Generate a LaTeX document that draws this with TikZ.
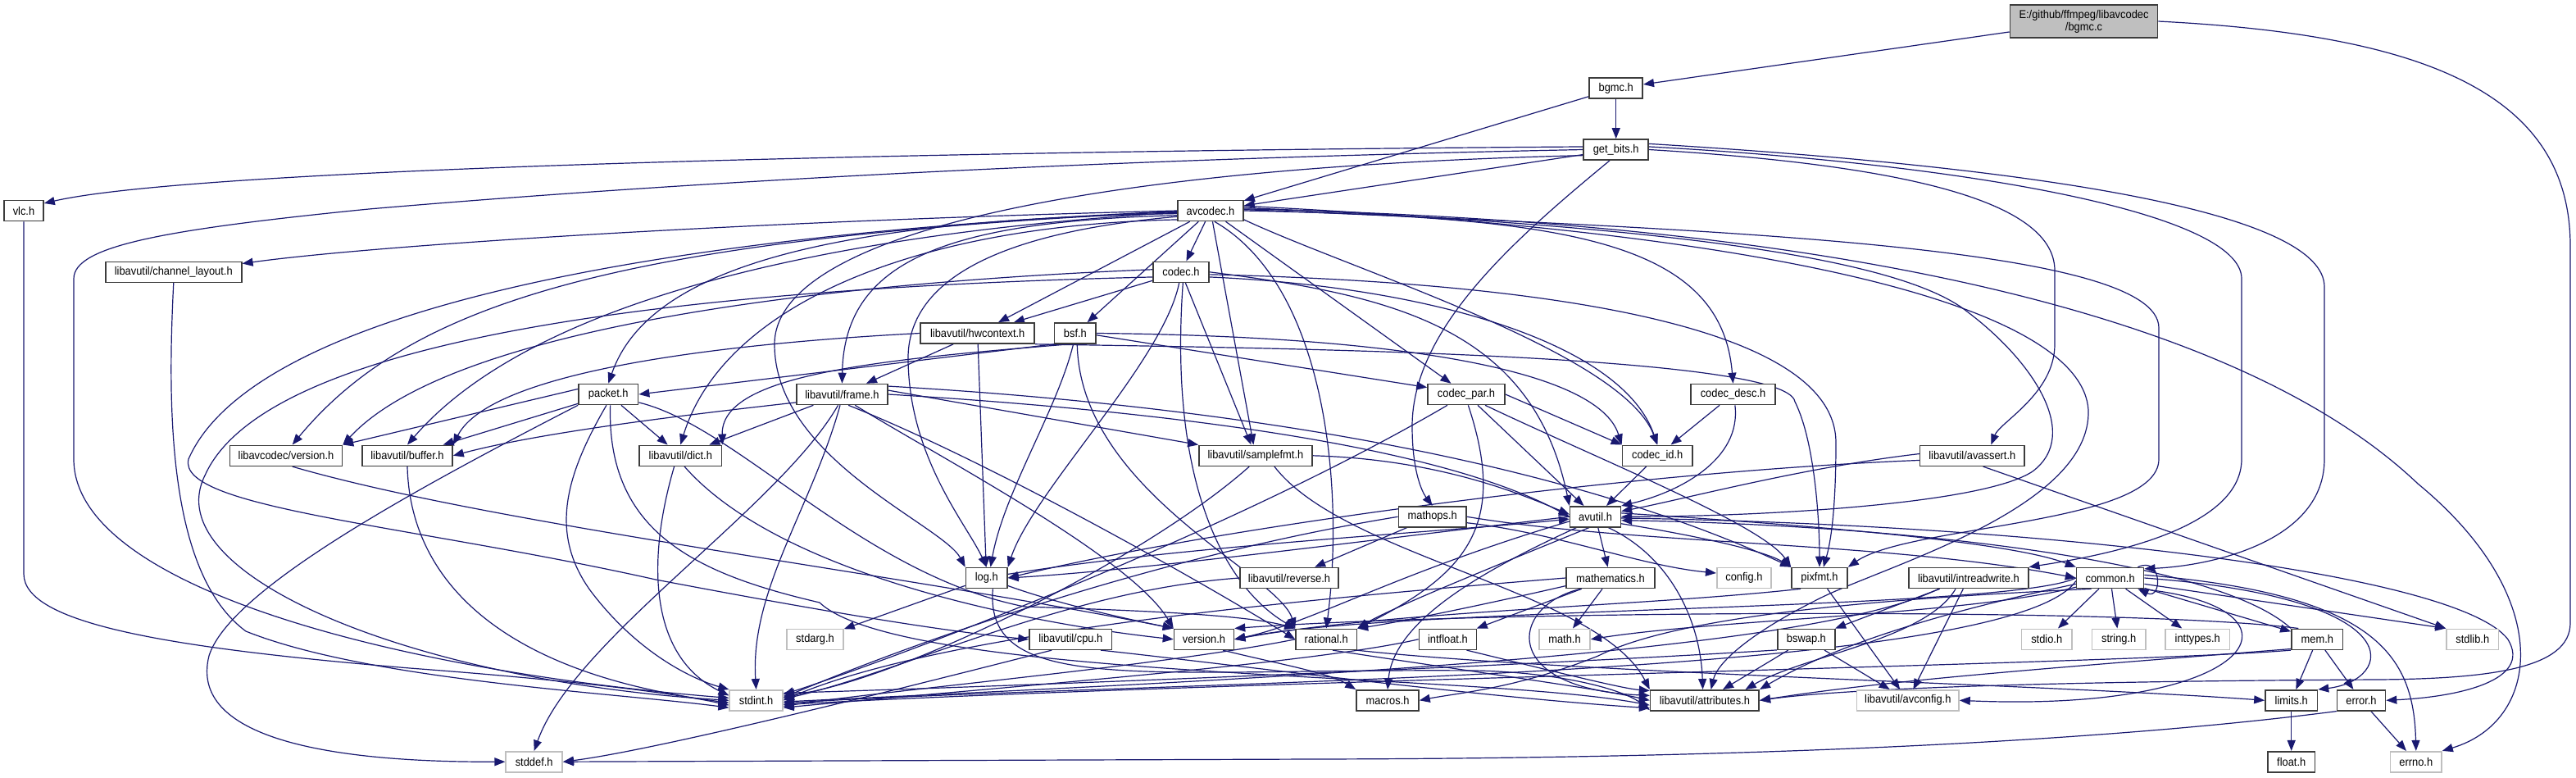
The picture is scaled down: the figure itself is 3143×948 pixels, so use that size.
\documentclass[tikz,border=0pt]{standalone}
\usepackage{fontspec}
\newfontfamily\gf{Liberation Sans}[FakeStretch=0.92]
\usetikzlibrary{arrows.meta}
\definecolor{edgec}{RGB}{25,25,112}
\definecolor{sysgray}{RGB}{191,191,191}
\definecolor{boxd}{RGB}{60,60,60}
\pgfdeclarelayer{bg}
\pgfdeclarelayer{edges}
\pgfsetlayers{bg,edges,main}
\newcommand\gnode[6]{\node[#1,minimum width=#5*0.5pt] (#2) at (#3,#4) {#6};}
\begin{document}
\begin{tikzpicture}[x=0.5pt,y=-0.5pt,
 every node/.style={font=\gf\fontsize{7pt}{7.5pt}\selectfont},
 nb/.style={draw=boxd,line width=0.8pt,fill=white,inner sep=0pt,minimum height=12.5pt,align=center},
 ns/.style={nb,draw=sysgray},
 lnk/.style={draw=edgec,line width=0.6pt,-{Triangle[length=6.5pt,width=5pt]}}]
\begin{pgfonlayer}{bg}
\fill[white] (0,0) rectangle (3143,948);
\end{pgfonlayer}
\useasboundingbox (0,0) rectangle (3143,948);
% ---------- nodes ----------
\node[nb,fill=sysgray,minimum width=90pt,minimum height=20pt] (bgmcc) at (2542.5,26) {E:/github/ffmpeg/libavcodec\\/bgmc.c};
\gnode{nb}{bgmch}{1971.7}{107.7}{65}{bgmc.h}
\gnode{nb}{getbits}{1971.7}{182.5}{79}{get\_bits.h}
\gnode{nb}{vlc}{29}{257}{48}{vlc.h}
\gnode{nb}{avcodec}{1477}{257}{80}{avcodec.h}
\gnode{nb}{chlayout}{211.8}{331.8}{166}{libavutil/channel\_layout.h}
\gnode{nb}{codec}{1441}{331.8}{68}{codec.h}
\gnode{nb}{hwctx}{1192.7}{406.5}{139}{libavutil/hwcontext.h}
\gnode{nb}{bsf}{1311.9}{406.5}{50.5}{bsf.h}
\gnode{nb}{packet}{742.3}{481}{72.6}{packet.h}
\gnode{nb}{frame}{1027.4}{481}{111}{libavutil/frame.h}
\gnode{nb}{codecpar}{1789}{481}{94}{codec\_par.h}
\gnode{nb}{codecdesc}{2114.5}{481}{103}{codec\_desc.h}
\gnode{nb}{lavcver}{349}{555.8}{137}{libavcodec/version.h}
\gnode{nb}{buffer}{497}{555.8}{110}{libavutil/buffer.h}
\gnode{nb}{dict}{830.3}{555.8}{100.5}{libavutil/dict.h}
\gnode{nb}{samplefmt}{1531.9}{555.8}{138}{libavutil/samplefmt.h}
\gnode{nb}{codecid}{2022.2}{555.8}{85.6}{codec\_id.h}
\gnode{nb}{avassert}{2406.3}{555.8}{127.4}{libavutil/avassert.h}
\gnode{nb}{mathops}{1747.7}{630.3}{82.6}{mathops.h}
\gnode{nb}{avutil}{1946.5}{630.3}{61.7}{avutil.h}
\gnode{nb}{log}{1203.7}{705}{50.5}{log.h}
\gnode{nb}{reverse}{1573}{705}{120}{libavutil/reverse.h}
\gnode{nb}{mathematics}{1965}{705}{108}{mathematics.h}
\gnode{ns}{config}{2127.9}{705}{66.3}{config.h}
\gnode{nb}{pixfmt}{2220}{705}{68}{pixfmt.h}
\gnode{nb}{intrw}{2401.9}{705}{145.7}{libavutil/intreadwrite.h}
\gnode{nb}{common}{2574.6}{705}{82}{common.h}
\gnode{ns}{stdarg}{994.5}{779.8}{69}{stdarg.h}
\gnode{nb}{cpu}{1306.3}{779.8}{100.5}{libavutil/cpu.h}
\gnode{nb}{lavuver}{1469}{779.8}{73}{version.h}
\gnode{nb}{rational}{1618.2}{779.8}{74.4}{rational.h}
\gnode{nb}{intfloat}{1766.4}{779.8}{70}{intfloat.h}
\gnode{ns}{mathh}{1909}{779.8}{62}{math.h}
\gnode{nb}{bswap}{2203.9}{779.8}{70.3}{bswap.h}
\gnode{ns}{stdio}{2497.2}{779.8}{61.5}{stdio.h}
\gnode{ns}{string}{2585.2}{779.8}{65.5}{string.h}
\gnode{ns}{inttypes}{2681.2}{779.8}{78.4}{inttypes.h}
\gnode{nb}{mem}{2827.3}{779.8}{62.7}{mem.h}
\gnode{ns}{stdlib}{3016.8}{779.8}{63.7}{stdlib.h}
\gnode{ns}{stdint}{922.6}{854.3}{64.8}{stdint.h}
\gnode{nb}{macros}{1693}{854.3}{76}{macros.h}
\gnode{nb}{attributes}{2079.9}{854.3}{132.6}{libavutil/attributes.h}
\gnode{ns}{avconfig}{2327.8}{854.3}{124.4}{libavutil/avconfig.h}
\gnode{nb}{limits}{2795.7}{854.3}{63.5}{limits.h}
\gnode{nb}{error}{2881}{854.3}{59}{error.h}
\gnode{ns}{stddef}{651.7}{929.2}{69}{stddef.h}
\gnode{nb}{floath}{2795.7}{929.2}{57.4}{float.h}
\gnode{ns}{errno}{2947.8}{929.2}{62.4}{errno.h}
% ---------- edges ----------
\begin{pgfonlayer}{edges}
% bgmc.c
\draw[lnk] (bgmcc) -- (bgmch);
\draw[lnk] (bgmcc.east) .. controls (2950,42) and (3136,110) .. (3136,300) -- (3136,760) .. controls (3136,815) and (3040,828) .. (2900,829) .. controls (2500,831) and (2250,840) .. (attributes.east);
% bgmc.h
\draw[lnk] (bgmch) -- (getbits);
\draw[lnk] (bgmch) -- (avcodec);
% get_bits.h
\draw[lnk] (getbits) -- (avcodec);
\draw[lnk] (getbits.175) .. controls (1200,184) and (250,203) .. (vlc.20);
\draw[lnk] (getbits.180) .. controls (1300,195) and (800,225) .. (450,255) .. controls (200,280) and (90,300) .. (90,340) -- (90,560) .. controls (90,720) and (500,820) .. (stdint.175);
\draw[lnk] (getbits.190) .. controls (1300,205) and (945,290) .. (945,420) .. controls (945,560) and (1150,640) .. (log.north west);
\draw[lnk] (getbits.240) .. controls (1850,290) and (1723,400) .. (1723,520) .. controls (1723,575) and (1735,600) .. (mathops.north);
\draw[lnk] (getbits.east) .. controls (2300,200) and (2507,240) .. (2507,330) -- (2507,420) .. controls (2507,480) and (2440,515) .. (avassert.30);
\draw[lnk] (getbits.5) .. controls (2400,200) and (2735,260) .. (2735,340) -- (2735,560) .. controls (2735,650) and (2550,680) .. (intrw.north east);
\draw[lnk] (getbits.10) .. controls (2500,205) and (2836,260) .. (2836,350) -- (2836,560) .. controls (2836,660) and (2700,690) .. (common.15);
% avcodec.h
\draw[lnk] (avcodec.west) .. controls (900,270) and (450,300) .. (chlayout.7);
\draw[lnk] (avcodec) -- (codec);
\draw[lnk] (avcodec) -- (hwctx);
\draw[lnk] (avcodec) -- (bsf);
\draw[lnk] (avcodec.185) .. controls (1000,268) and (790,330) .. (packet.north);
\draw[lnk] (avcodec.188) .. controls (1150,270) and (1030,320) .. (frame.north);
\draw[lnk] (avcodec) -- (codecpar);
\draw[lnk] (avcodec.east) .. controls (1900,265) and (2100,290) .. (codecdesc.north);
\draw[lnk] (avcodec.182) .. controls (750,290) and (500,370) .. (lavcver.60);
\draw[lnk] (avcodec.183) .. controls (900,292) and (620,400) .. (buffer.north);
\draw[lnk] (avcodec.195) .. controls (1100,275) and (880,380) .. (dict.north);
\draw[lnk] (avcodec) -- (samplefmt);
\draw[lnk] (avcodec.-15) .. controls (1650,330) and (1980,430) .. (codecid.north);
\draw[lnk] (avcodec.5) .. controls (1900,270) and (2300,300) .. (2400,380) .. controls (2480,440) and (2540,530) .. (2480,575) .. controls (2420,615) and (2150,630) .. (avutil.east);
\draw[lnk] (avcodec.190) .. controls (1200,285) and (1106,350) .. (1108,440) .. controls (1110,560) and (1180,640) .. (log.north);
\draw[lnk] (avcodec.2) .. controls (2100,280) and (2634,300) .. (2634,400) -- (2634,560) .. controls (2634,640) and (2330,640) .. (pixfmt.north east);
\draw[lnk] (avcodec.8) .. controls (2200,285) and (2540,380) .. (2548,500) .. controls (2552,620) and (2300,690) .. (2220,730) .. controls (2130,775) and (2095,810) .. (attributes.60);
\draw[lnk] (avcodec.-70) .. controls (1620,350) and (1640,600) .. (rational.north);
\draw[lnk] (avcodec.181) .. controls (700,290) and (300,400) .. (230,560) .. controls (215,620) and (500,640) .. (800,707) .. controls (1000,745) and (1150,770) .. (cpu.west);
\draw[lnk] (avcodec.3) .. controls (2300,272) and (2750,400) .. (2950,590) .. controls (3120,730) and (3100,880) .. (errno.north east);
% codec.h
\draw[lnk] (codec.190) .. controls (900,350) and (330,400) .. (250,580) .. controls (190,700) and (500,830) .. (stdint.180);
\draw[lnk] (codec.east) .. controls (1700,360) and (1870,400) .. (avutil.north west);
\draw[lnk] (codec) -- (hwctx);
\draw[lnk] (codec.-100) .. controls (1420,440) and (1260,600) .. (log.north east);
\draw[lnk] (codec.-5) .. controls (1900,345) and (2240,400) .. (2240,540) .. controls (2240,620) and (2234,660) .. (pixfmt.70);
\draw[lnk] (codec.-80) .. controls (1425,600) and (1500,720) .. (rational.north west);
\draw[lnk] (codec) -- (samplefmt);
\draw[lnk] (codec.-10) .. controls (1750,350) and (1980,420) .. (codecid.north);
\draw[lnk] (codec.175) .. controls (1000,345) and (550,400) .. (lavcver.north east);
% hwcontext.h
\draw[lnk] (hwctx.west) .. controls (900,418) and (600,450) .. (buffer.north east);
\draw[lnk] (hwctx) -- (frame);
\draw[lnk] (hwctx) -- (log);
\draw[lnk] (hwctx.south east) .. controls (1500,424) and (2180,430) .. (2190,490) .. controls (2215,540) and (2220,640) .. (pixfmt.north);
% bsf.h
\draw[lnk] (bsf.south west) -- (packet.east);
\draw[lnk] (bsf.-115) .. controls (1050,440) and (880,460) .. (dict.north east);
\draw[lnk] (bsf.-100) .. controls (1290,500) and (1225,600) .. (log.70);
\draw[lnk] (bsf.-80) .. controls (1318,600) and (1560,700) .. (rational.north west);
\draw[lnk] (bsf.east) .. controls (1700,410) and (1950,450) .. (codecid.north west);
\draw[lnk] (bsf.-5) -- (codecpar.170);
% packet.h
\draw[lnk] (packet.south west) .. controls (500,600) and (280,720) .. (255,800) .. controls (230,900) and (400,930) .. (stddef.west);
\draw[lnk] (packet.-100) .. controls (690,580) and (670,650) .. (720,720) .. controls (780,800) and (850,830) .. (stdint.north west);
\draw[lnk] (packet.-80) .. controls (740,650) and (850,700) .. (1000,735) .. controls (1100,830) and (1800,820) .. (attributes.185);
\draw[lnk] (packet) -- (buffer);
\draw[lnk] (packet) -- (dict);
\draw[lnk] (packet.-15) .. controls (900,520) and (1050,700) .. (1250,740) .. controls (1400,745) and (1520,750) .. (rational.north west);
\draw[lnk] (packet.170) -- (lavcver.north east);
% frame.h
\draw[lnk] (frame.-110) .. controls (950,620) and (700,780) .. (stddef.north);
\draw[lnk] (frame.-100) .. controls (990,620) and (915,720) .. (stdint.north);
\draw[lnk] (frame.east) .. controls (1400,500) and (1750,540) .. (avutil.west);
\draw[lnk] (frame.190) .. controls (800,510) and (650,530) .. (buffer.east);
\draw[lnk] (frame) -- (dict);
\draw[lnk] (frame.-60) .. controls (1200,560) and (1450,700) .. (rational.west);
\draw[lnk] (frame.5) -- (samplefmt.north west);
\draw[lnk] (frame.10) .. controls (1500,495) and (1900,560) .. (pixfmt.north west);
\draw[lnk] (frame.-40) .. controls (1150,560) and (1380,680) .. (lavuver.north west);
% codec_par.h
\draw[lnk] (codecpar.-150) .. controls (1500,650) and (1100,800) .. (stdint.12);
\draw[lnk] (codecpar) -- (avutil);
\draw[lnk] (codecpar.-80) .. controls (1840,640) and (1790,700) .. (rational.north east);
\draw[lnk] (codecpar.-30) .. controls (1950,560) and (2150,640) .. (pixfmt.north west);
\draw[lnk] (codecpar.east) -- (codecid.north west);
% codec_desc.h
\draw[lnk] (codecdesc) -- (codecid);
\draw[lnk] (codecdesc.-80) .. controls (2125,560) and (2050,600) .. (avutil.north east);
% libavcodec/version.h
\draw[lnk] (lavcver.-60) .. controls (600,640) and (1100,700) .. (lavuver.north west);
% buffer.h, dict.h
\draw[lnk] (buffer.south) .. controls (500,700) and (600,820) .. (stdint.185);
\draw[lnk] (dict.-120) .. controls (790,680) and (790,800) .. (stdint.170);
\draw[lnk] (dict.-70) .. controls (950,700) and (1250,760) .. (lavuver.west);
% samplefmt.h
\draw[lnk] (samplefmt.-120) .. controls (1400,680) and (1100,830) .. (stdint.9);
\draw[lnk] (samplefmt.east) .. controls (1750,560) and (1850,600) .. (avutil.175);
\draw[lnk] (samplefmt.-30) .. controls (1640,680) and (1950,720) .. (attributes.north west);
% codec_id.h
\draw[lnk] (codecid) -- (avutil);
% avassert.h
\draw[lnk] (avassert.-45) -- (stdlib.north west);
\draw[lnk] (avassert.178) .. controls (2200,570) and (2050,610) .. (avutil.12);
\draw[lnk] (avassert.185) .. controls (2000,575) and (1500,640) .. (log.east);
% mathops.h
\draw[lnk] (mathops.west) .. controls (1400,680) and (1100,790) .. (stdint.6);
\draw[lnk] (mathops.east) .. controls (2000,665) and (2300,660) .. (common.west);
\draw[lnk] (mathops) -- (reverse);
\draw[lnk] (mathops.-10) .. controls (1900,650) and (2000,690) .. (config.170);
% avutil.h
\draw[lnk] (avutil.8) .. controls (2200,640) and (2450,660) .. (common.north west);
\draw[lnk] (avutil.-3) .. controls (2500,640) and (3000,700) .. (3060,780) .. controls (3090,830) and (3000,850) .. (error.east);
\draw[lnk] (avutil.-120) .. controls (1850,680) and (1700,740) .. (rational.north east);
\draw[lnk] (avutil.190) .. controls (1700,700) and (1600,760) .. (lavuver.east);
\draw[lnk] (avutil.-150) .. controls (1800,700) and (1700,760) .. (macros.north);
\draw[lnk] (avutil) -- (mathematics);
\draw[lnk] (avutil.180) .. controls (1700,655) and (1400,695) .. (log.east);
\draw[lnk] (avutil.-15) .. controls (2050,650) and (2150,670) .. (pixfmt.north west);
\draw[lnk] (avutil.-40) .. controls (2040,680) and (2075,760) .. (attributes.100);
% log.h
\draw[lnk] (log) -- (stdarg);
\draw[lnk] (log.10) .. controls (1450,665) and (1750,650) .. (avutil.185);
\draw[lnk] (log.-60) .. controls (1200,850) and (1400,815) .. (1800,818) .. controls (1900,820) and (1980,840) .. (attributes.190);
\draw[lnk] (log.-20) .. controls (1300,740) and (1400,760) .. (lavuver.north west);
% reverse.h
\draw[lnk] (reverse.west) .. controls (1300,720) and (1100,820) .. (stdint.3);
% mathematics.h
\draw[lnk] (mathematics.west) .. controls (1600,730) and (1150,770) .. (stdint.0);
\draw[lnk] (mathematics) -- (mathh);
\draw[lnk] (mathematics.-160) .. controls (1840,740) and (1830,840) .. (attributes.175);
\draw[lnk] (mathematics.-170) .. controls (1800,740) and (1700,760) .. (rational.north east);
\draw[lnk] (mathematics) -- (intfloat);
% pixfmt.h
\draw[lnk] (pixfmt) -- (avconfig);
\draw[lnk] (pixfmt.-150) .. controls (2000,740) and (1700,745) .. (lavuver.east);
% intreadwrite.h
\draw[lnk] (intrw.-160) .. controls (2200,800) and (1500,830) .. (stdint.-3);
\draw[lnk] (intrw.-140) .. controls (2350,780) and (2200,800) .. (attributes.15);
\draw[lnk] (intrw) -- (bswap);
\draw[lnk] (intrw) -- (avconfig);
% common.h
\draw[lnk] (common) -- (stdio);
\draw[lnk] (common) -- (string);
\draw[lnk] (common) -- (inttypes);
\draw[lnk] (common) -- (mem);
\draw[lnk] (common.-10) -- (stdlib.north west);
\draw[lnk] (common.0) .. controls (2950,730) and (2920,830) .. (limits.north east);
\draw[lnk] (common.5) .. controls (2900,725) and (2945,800) .. (errno.north);
\draw[lnk] (common.-165) .. controls (2400,750) and (2100,755) .. (mathh.east);
\draw[lnk] (common.185) .. controls (2450,830) and (1400,830) .. (stdint.-6);
\draw[lnk] (common.190) .. controls (2400,740) and (2250,780) .. (attributes.north east);
\draw[lnk] (common.-150) .. controls (2300,730) and (2050,750) .. (1950,800) .. controls (1850,840) and (1780,845) .. (macros.east);
\draw[lnk] (common.180) .. controls (2450,745) and (1700,740) .. (lavuver.east);
\draw[lnk] (common.-20) .. controls (2830,740) and (2760,870) .. (avconfig.east);
\draw[lnk] ([xshift=-4pt]common.north east) .. controls +(30,-14) and +(30,14) .. ([xshift=-4pt]common.south east);
% mem.h
\draw[lnk] (mem) -- (limits);
\draw[lnk] (mem) -- (error);
\draw[lnk] (mem.south west) .. controls (2600,810) and (1500,830) .. (stdint.-9);
\draw[lnk] (mem.-160) .. controls (2500,815) and (2300,830) .. (attributes.east);
\draw[lnk] (mem.north west) .. controls (2700,680) and (2300,640) .. (avutil.-8);
\draw[lnk] (mem.150) .. controls (2600,740) and (1800,745) .. (lavuver.north east);
% error.h
\draw[lnk] (error) -- (errno);
\draw[lnk] (error.south west) .. controls (2600,900) and (2200,925) .. (1600,926) -- (stddef.east);
% limits.h
\draw[lnk] (limits) -- (floath);
% version.h
\draw[lnk] (lavuver.-30) .. controls (1560,810) and (1620,820) .. (macros.north west);
% rational.h
\draw[lnk] (rational.west) .. controls (1420,812) and (1100,840) .. (stdint.-12);
\draw[lnk] (rational.-20) .. controls (1900,820) and (2500,835) .. (limits.west);
\draw[lnk] (rational.-60) .. controls (1800,820) and (1950,840) .. (attributes.180);
% intfloat.h
\draw[lnk] (intfloat.west) .. controls (1600,810) and (1200,840) .. (stdint.-15);
\draw[lnk] (intfloat.-30) .. controls (1900,820) and (1980,840) .. (attributes.170);
% bswap.h
\draw[lnk] (bswap.200) .. controls (1900,810) and (1300,835) .. (stdint.15);
\draw[lnk] (bswap) -- (attributes);
\draw[lnk] (bswap) -- (avconfig);
% cpu.h
\draw[lnk] (cpu.-150) .. controls (1100,840) and (800,915) .. (stddef.east);
\draw[lnk] (cpu.-20) .. controls (1500,810) and (1800,850) .. (attributes.188);
% vlc.h, channel_layout.h
\draw[lnk] (vlc.south) -- (29,700) .. controls (29,760) and (200,790) .. (500,815) .. controls (700,830) and (820,845) .. (stdint.190);
\draw[lnk] (chlayout.south) .. controls (204,500) and (205,700) .. (300,770) .. controls (450,830) and (750,845) .. (stdint.195);
\end{pgfonlayer}
\end{tikzpicture}
\end{document}
